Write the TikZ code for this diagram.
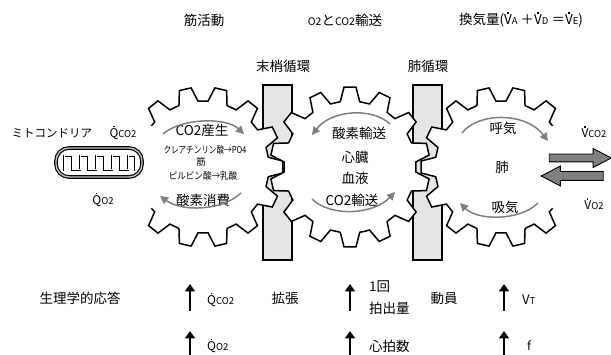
\documentclass[tikz,border=0pt]{standalone}
\usepackage{fontspec}
\setmainfont{Noto Sans CJK JP}
\usetikzlibrary{arrows.meta,shapes.arrows}
% letter with a small dot above it (rate notation)
\newcommand{\dv}[1]{\leavevmode\setbox0\hbox{#1}\rlap{\hbox to\wd0{\hss\raisebox{\dimexpr\ht0+1.3pt\relax}{\rule{1.3pt}{1.3pt}}\hss}}\box0}
\newcommand{\sm}[1]{{\fontsize{9.5}{11}\selectfont #1}}
\def\gp{25.7142857}% tooth pitch (14 teeth)
\def\ro{80}\def\ri{66}\def\tt{4.3}\def\tb{8.5}
\begin{document}
\begin{tikzpicture}[x=1pt,y=-1pt,
  lbl/.style={font=\fontsize{13.5}{15}\selectfont, inner sep=0pt},
  tiny/.style={font=\fontsize{9.5}{11}\selectfont, inner sep=0pt},
  wall/.style={draw=black, line width=1.3pt, fill=gray!20},
  gearline/.style={draw=black, line width=1.5pt, fill=white, line join=miter},
  turn/.style={draw=gray, line width=1.5pt, -{Triangle[length=8pt,width=8pt]}},
  rise/.style={draw=black, line width=2.3pt, -{Triangle[length=7.5pt,width=10pt]}},
  flow/.style={single arrow, draw=black, line width=0.9pt, fill=gray,
    minimum height=62pt, inner xsep=0pt, inner ysep=3.5pt,
    single arrow head extend=5.5pt, single arrow tip angle=55}
]
\useasboundingbox (0,0) rectangle (611,355);

% circulation walls
\node[wall, minimum width=29pt, minimum height=175pt, inner sep=0pt] (peri) at (277.5,172.5) {};
\node[wall, minimum width=29pt, minimum height=175pt, inner sep=0pt] (pulm) at (427.5,172.5) {};

% muscle gear (open on the left)
\begin{scope}[shift={(203,167)}]
\coordinate (gm) at (0,0);
\draw[gearline] ({8.5*\gp}:\ri)
  \foreach \k in {9,...,19} { -- ({\k*\gp-\tb}:\ri) -- ({\k*\gp-\tt}:\ro) -- ({\k*\gp+\tt}:\ro) -- ({\k*\gp+\tb}:\ri) }
  -- ({19.5*\gp}:\ri);
\end{scope}

% heart gear
\begin{scope}[shift={(350,167)}]
\coordinate (gh) at (0,0);
\draw[gearline] ({90-\gp/2}:\ri)
  \foreach \k in {0,...,13} { -- ({90+\k*\gp-\tb}:\ri) -- ({90+\k*\gp-\tt}:\ro) -- ({90+\k*\gp+\tt}:\ro) -- ({90+\k*\gp+\tb}:\ri) }
  -- cycle;
\end{scope}

% lung gear (open on the right)
\begin{scope}[shift={(501,167)}]
\coordinate (gl) at (0,0);
\draw[gearline] ({1.5*\gp}:\ri)
  \foreach \k in {2,...,12} { -- ({\k*\gp-\tb}:\ri) -- ({\k*\gp-\tt}:\ro) -- ({\k*\gp+\tt}:\ro) -- ({\k*\gp+\tb}:\ri) }
  -- ({12.5*\gp}:\ri);
\end{scope}

% mitochondrion: double membrane with folded cristae
\draw[line width=1.2pt, double=gray!45, double distance=1.3pt, rounded corners=13pt] (56,148) rectangle (142,177);
\def\cristae{(64,171) -- (64,156) -- (72,156) -- (72,170) -- (80,170) -- (80,156) -- (88,156) -- (88,170)
  -- (96,170) -- (96,156) -- (104,156) -- (104,170) -- (112,170) -- (112,156) -- (120,156) -- (120,170)
  -- (128,170) -- (128,156) -- (135,156) -- (135,171)}
\draw[black, line width=2.8pt, line join=miter] \cristae;
\draw[white, line width=1.0pt, line join=miter] \cristae;

% headings
\node[lbl] (h1) at (204,20) {筋活動};
\node[lbl] (h2) at (345,20) {{\fontsize{10.5}{12}\selectfont O2}と{\fontsize{10.5}{12}\selectfont CO2}輸送};
\node[lbl] (h3) at (521,20) {換気量(\dv{V}\sm{A} ＋\dv{V}\sm{D} ＝\dv{V}\sm{E})};
\node[lbl] (c1) at (283,66) {末梢循環};
\node[lbl] (c2) at (428,66) {肺循環};

% left side labels
\node[lbl, font=\fontsize{11.5}{13}\selectfont] (mito) at (52,133) {ミトコンドリア};
\node[lbl, font=\fontsize{12}{13}\selectfont] (qc) at (123,133) {\dv{Q}\sm{CO2}};
\node[lbl, font=\fontsize{12}{13}\selectfont] (qo) at (103,200) {\dv{Q}\sm{O2}};

% muscle gear texts
\node[lbl] (m1) at (202,130) {CO2産生};
\node[tiny] (m2) at (205,150) {\scalebox{0.8}[1]{クレアチンリン酸→PO4}};
\node[tiny] (m3) at (201,162) {筋};
\node[tiny] (m4) at (203,176) {\scalebox{0.9}[1]{ピルビン酸→乳酸}};
\node[lbl] (m5) at (203,200) {酸素消費};
\coordinate (ma1) at (163,134); \coordinate (ma2) at (244,134);
\coordinate (mb1) at (241,193); \coordinate (mb2) at (160,196);
\draw[turn] (ma1) .. controls (181,118) and (226,117) .. (ma2);
\draw[turn] (mb1) .. controls (222,211) and (182,212) .. (mb2);

% heart gear texts
\node[lbl] (h4) at (359,133) {酸素輸送};
\node[lbl] (h5) at (355,157) {心臓};
\node[lbl] (h6) at (355,178) {血液};
\node[lbl] (h7) at (352,200) {CO2輸送};
\coordinate (ha1) at (390,124); \coordinate (ha2) at (312,135);
\coordinate (hb1) at (312,199); \coordinate (hb2) at (395,192);
\draw[turn] (ha1) .. controls (372,107) and (331,110) .. (ha2);
\draw[turn] (hb1) .. controls (330,217) and (373,215) .. (hb2);

% lung gear texts
\node[lbl] (l1) at (503,128) {呼気};
\node[lbl] (l2) at (502,167) {肺};
\node[lbl] (l3) at (505,207) {吸気};
\coordinate (la1) at (462,133); \coordinate (la2) at (548,141);
\coordinate (lb1) at (538,203); \coordinate (lb2) at (460,203);
\draw[turn] (la1) .. controls (478,112) and (526,112) .. (la2);
\draw[turn] (lb1) .. controls (520,221) and (478,221) .. (lb2);

% gas exchange
\node[lbl, font=\fontsize{12}{13}\selectfont] (vc) at (594,132) {\dv{V}\sm{CO2}};
\node[lbl, font=\fontsize{12}{13}\selectfont] (vo) at (594,204) {\dv{V}\sm{O2}};
\node[flow] (out) at (576.5,158) {};
\node[flow, inner ysep=4pt, shape border rotate=180] (in) at (576.5,176) {};

% physiological responses
\node[lbl] (r0) at (80,298) {生理学的応答};
\coordinate (a1s) at (190,311); \coordinate (a1e) at (190,284);
\coordinate (a2s) at (350,311); \coordinate (a2e) at (350,284);
\coordinate (a3s) at (504,311); \coordinate (a3e) at (504,284);
\coordinate (b1s) at (190,357); \coordinate (b1e) at (190,331);
\coordinate (b2s) at (350,357); \coordinate (b2e) at (350,331);
\coordinate (b3s) at (504,357); \coordinate (b3e) at (504,331);
\foreach \s/\e in {a1s/a1e,a2s/a2e,a3s/a3e,b1s/b1e,b2s/b2e,b3s/b3e}
  \draw[rise] (\s) -- (\e);
\node[lbl, anchor=west, font=\fontsize{12}{13}\selectfont] (r1) at (207,300) {\dv{Q}\sm{CO2}};
\node[lbl] (r2) at (285,298) {拡張};
\node[lbl, anchor=west] (r3) at (369,287) {1回};
\node[lbl, anchor=west] (r4) at (369,308) {拍出量};
\node[lbl] (r5) at (444,298) {動員};
\node[lbl, anchor=west, font=\fontsize{13}{14}\selectfont] (r6) at (522,300) {V\sm{T}};
\node[lbl, anchor=west, font=\fontsize{12}{13}\selectfont] (s1) at (207,346) {\dv{Q}\sm{O2}};
\node[lbl, anchor=west] (s2) at (369,346) {心拍数};
\node[lbl, anchor=west, font=\fontsize{12}{13}\selectfont] (s3) at (527,346) {f};
\end{tikzpicture}
\end{document}
